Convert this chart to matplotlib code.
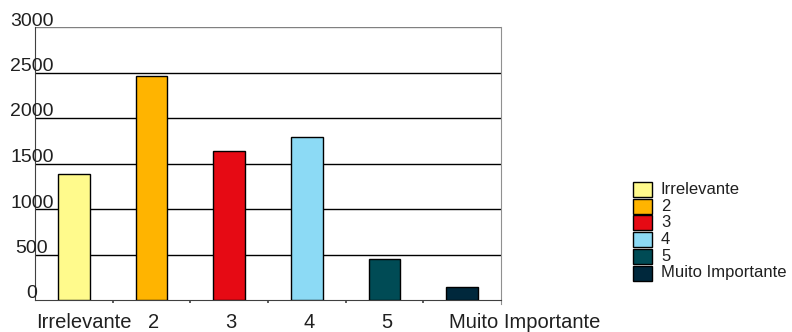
import matplotlib
matplotlib.use("Agg")
import matplotlib.pyplot as plt
from matplotlib.patches import Rectangle
from matplotlib.transforms import ScaledTranslation, blended_transform_factory

plt.rcParams['font.family'] = ['Liberation Sans', 'DejaVu Sans']

categories = ["Irrelevante", "2", "3", "4", "5", "Muito Importante"]
values = [1390, 2460, 1640, 1790, 450, 145]
colors = ["#FFFA8C", "#FFB400", "#E60A14", "#8CDAF5", "#004B55", "#00283C"]
y_ticks = [0, 500, 1000, 1500, 2000, 2500, 3000]

W, H = 792, 332
fig = plt.figure(figsize=(W / 100, H / 100), dpi=100)
ax = fig.add_axes([35 / W, 32 / H, 466 / W, 273 / H])

x = list(range(len(categories)))
ax.bar(x, values, width=0.41, color=colors, edgecolor="black", linewidth=1, zorder=3)

ax.set_xlim(-0.5, len(categories) - 0.5)
ax.set_ylim(0, 3000)

# horizontal gridlines
for v in y_ticks[1:-1]:
    ax.axhline(v, color="black", linewidth=1, zorder=1)
ax.axhline(y_ticks[-1], color="#808080", linewidth=1, zorder=1)

ax.spines["top"].set_visible(False)
ax.spines["left"].set_color("#404040")
ax.spines["bottom"].set_color("#404040")
ax.spines["right"].set_color("#909090")
ax.spines["right"].set_bounds(-40, 3000)
ax.spines["right"].set_clip_on(False)

ax.set_xticks([])
ax.set_xticks([i + 0.5 for i in x[:-1]], minor=True)
ax.tick_params(axis="x", which="minor", length=2, width=1.2, color="#404040", direction="out")
ax.set_yticks([])

# y tick labels centred on the left spine
ty = blended_transform_factory(ax.transAxes, ax.transData)
for v in y_ticks:
    off = ScaledTranslation(-3 / 100, 6 / 100, fig.dpi_scale_trans)
    ax.text(0, v, str(v), transform=ty + off, ha="center", va="center",
            fontsize=14, color="#202020")

# category labels under the axis
tx = blended_transform_factory(ax.transData, ax.transAxes)
label_shift = [10, 2, 2, 2, 2, 63]
for i, (cat, dx) in enumerate(zip(categories, label_shift)):
    off = ScaledTranslation(dx / 100, -23 / 100, fig.dpi_scale_trans)
    ax.text(i, 0, cat, transform=tx + off, ha="center", va="center",
            fontsize=14.5, color="#202020")

# legend drawn as patches and labels in pixel coordinates
for j, (cat, col) in enumerate(zip(categories, colors)):
    top = 182 + j * 16.7
    fig.add_artist(Rectangle((633 / W, 1 - (top + 15) / H), 19 / W, 15 / H,
                             facecolor=col, edgecolor="black", linewidth=1,
                             transform=fig.transFigure))
    fig.text(661 / W, 1 - (top + 7.5) / H, cat, ha="left", va="center",
             fontsize=12, color="#202020")

fig.savefig("out.png", dpi=100)
